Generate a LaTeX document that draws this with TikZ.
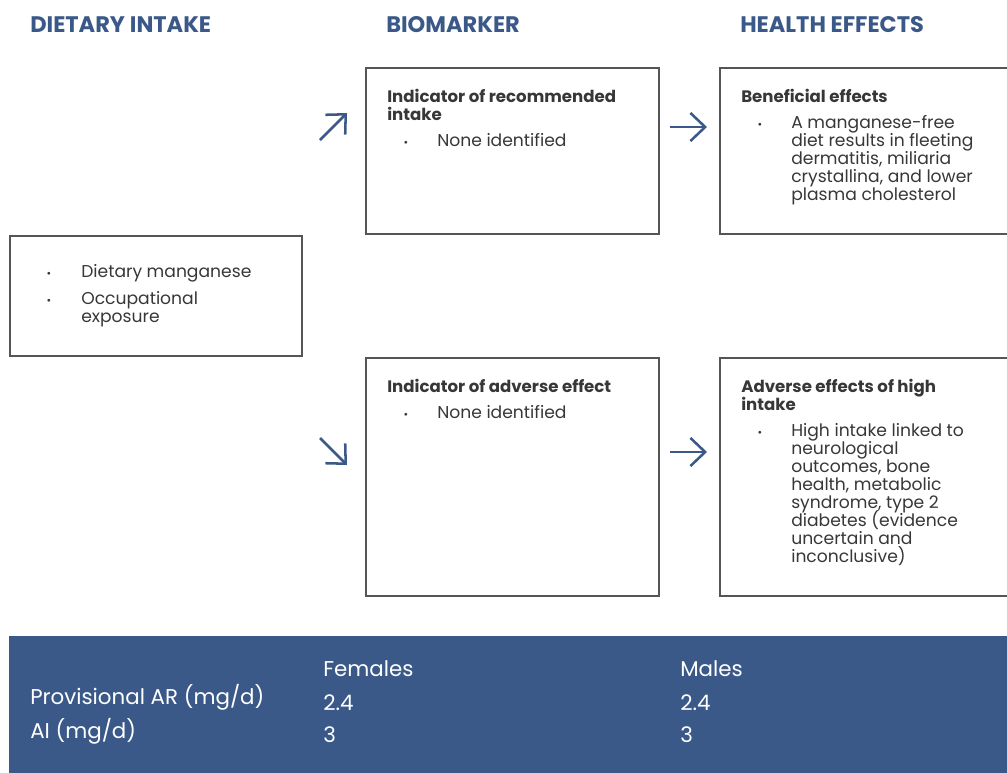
\documentclass[tikz,border=0pt]{standalone}
\usepackage{fontspec}
\setmainfont{Poppins}
\usepackage{xcolor}
\definecolor{mnblue}{RGB}{58,89,136}
\definecolor{mngray}{RGB}{85,85,85}
\definecolor{mntext}{RGB}{55,55,55}
\usetikzlibrary{arrows.meta, positioning}
\newcommand\tightlines{\lineskiplimit=-10pt\relax}

\begin{document}
\begin{tikzpicture}[x=0.025cm, y=-0.025cm,
  box/.style={draw=mngray, line width=1.1pt, anchor=north west, inner sep=0pt},
  head/.style={font=\fontsize{16}{18}\selectfont\bfseries, text=mnblue, anchor=base west, inner sep=0pt},
  ttl/.style={font=\fontsize{11.8}{12.8}\selectfont\bfseries\tightlines, text=mntext, anchor=base west, inner sep=0pt, align=left},
  item/.style={font=\fontsize{12.2}{12.8}\selectfont\tightlines, text=mntext, anchor=base west, inner sep=0pt, align=left},
  dot/.style={font=\fontsize{8}{8}\selectfont, text=mntext, anchor=base, inner sep=0pt},
  flow/.style={draw=mnblue, line width=1.8pt, -{Straight Barb[length=10.5pt, width=20pt]}},
  tab/.style={font=\fontsize{15.2}{16}\selectfont, text=white, anchor=base west, inner sep=0pt}]

  \useasboundingbox (0,0) rectangle (1007,772);

  % Column heads
  \node[head] (h-diet) at (30,32) {DIETARY INTAKE};
  \node[head] (h-bio) at (386,32) {BIOMARKER};
  \node[head] (h-health) at (740,32) {HEALTH EFFECTS};

  % Dietary intake (multi-line nodes sit on their last baseline)
  \node[box, minimum width=7.3cm, minimum height=3cm] (diet) at (9,235) {};
  \node[dot] (diet-d1) at ([shift={(40,42)}]diet.north west) {•};
  \node[item] (diet-i1) at ([shift={(72,42)}]diet.north west) {Dietary manganese};
  \node[dot] (diet-d2) at ([shift={(40,69)}]diet.north west) {•};
  \node[item] (diet-i2) at ([shift={(72,87)}]diet.north west) {Occupational\\exposure};

  % Biomarker, top
  \node[box, minimum width=7.325cm, minimum height=4.15cm] (rec) at (365,67) {};
  \node[ttl] (rec-t) at ([shift={(22,53)}]rec.north west) {Indicator of recommended\\intake};
  \node[dot] (rec-d) at ([shift={(41,79)}]rec.north west) {•};
  \node[item] (rec-i) at ([shift={(72,79)}]rec.north west) {None identified};

  % Biomarker, bottom
  \node[box, minimum width=7.325cm, minimum height=5.95cm] (adv) at (365,357) {};
  \node[ttl] (adv-t) at ([shift={(22,35)}]adv.north west) {Indicator of adverse effect};
  \node[dot] (adv-d) at ([shift={(41,61)}]adv.north west) {•};
  \node[item] (adv-i) at ([shift={(72,61)}]adv.north west) {None identified};

  % Health effects, top
  \node[box, minimum width=7.5cm, minimum height=4.15cm] (ben) at (719,67) {};
  \node[ttl] (ben-t) at ([shift={(22,35)}]ben.north west) {Beneficial effects};
  \node[dot] (ben-d) at ([shift={(41,61)}]ben.north west) {•};
  \node[item] (ben-i) at ([shift={(72,133)}]ben.north west)
       {A manganese-free\\diet results in fleeting\\dermatitis, miliaria\\crystallina, and lower\\plasma cholesterol};

  % Health effects, bottom
  \node[box, minimum width=7.5cm, minimum height=5.95cm] (high) at (719,357) {};
  \node[ttl] (high-t) at ([shift={(22,53)}]high.north west) {Adverse effects of high\\intake};
  \node[dot] (high-d) at ([shift={(41,79)}]high.north west) {•};
  \node[item] (high-i) at ([shift={(72,205)}]high.north west)
       {High intake linked to\\neurological\\outcomes, bone\\health, metabolic\\syndrome, type 2\\diabetes (evidence\\uncertain and\\inconclusive)};

  % Arrows
  \coordinate (up-s) at (320,140);
  \coordinate (up-e) at (347,113);
  \coordinate (dn-s) at (320,438);
  \coordinate (dn-e) at (347,465);
  \coordinate (r1-s) at (670,127);
  \coordinate (r1-e) at (707,127);
  \coordinate (r2-s) at (670,452);
  \coordinate (r2-e) at (707,452);
  \draw[flow] (up-s) -- (up-e);
  \draw[flow] (dn-s) -- (dn-e);
  \draw[flow] (r1-s) -- (r1-e);
  \draw[flow] (r2-s) -- (r2-e);

  % Reference values band
  \node[fill=mnblue, anchor=north west, inner sep=0pt, minimum width=25.1cm, minimum height=3.5cm] (band) at (9,636) {};
  \node[tab] (f-head) at (323,676) {Females};
  \node[tab] (m-head) at (680,676) {Males};
  \node[tab] (ar) at (30,704) {Provisional AR (mg/d)};
  \node[tab] (ar-f) at (323,710) {2.4};
  \node[tab] (ar-m) at (680,710) {2.4};
  \node[tab] (ai) at (30,738) {AI (mg/d)};
  \node[tab] (ai-f) at (323,742) {3};
  \node[tab] (ai-m) at (680,742) {3};
\end{tikzpicture}
\end{document}
